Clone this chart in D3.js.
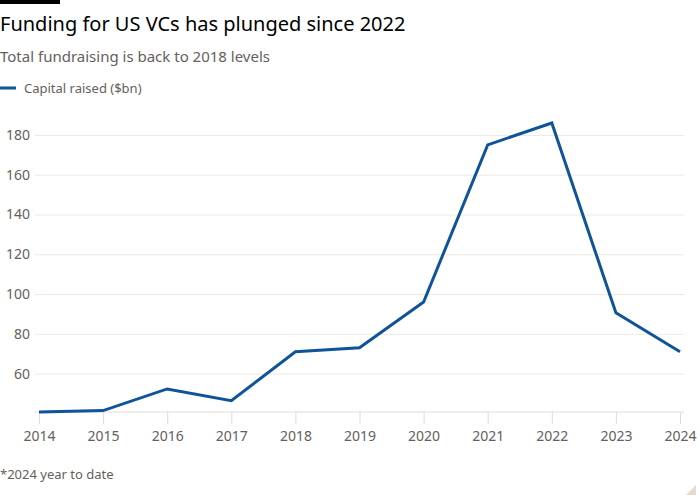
<!DOCTYPE html>
<html>
<head>
<meta charset="utf-8">
<script src="https://cdn.jsdelivr.net/npm/d3@7"></script>
<style>
  body { margin: 0; background: #fff; font-family: "Noto Sans", sans-serif; }
  svg { display: block; }
</style>
</head>
<body>
<svg width="700" height="500"></svg>
<script>
// Chart data
const years = [2014, 2015, 2016, 2017, 2018, 2019, 2020, 2021, 2022, 2023, 2024];
const capitalRaised = [40.7, 41.4, 52.3, 46.4, 71, 73, 96, 175, 186, 90.6, 71];
const yTicks = [60, 80, 100, 120, 140, 160, 180];

const svg = d3.select("svg");
const margin = { top: 123, right: 20, bottom: 88, left: 39 };
const width = 700 - margin.left - margin.right;
const height = 500 - margin.top - margin.bottom;

// Header
svg.append("rect").attr("x", 0).attr("y", 0).attr("width", 60).attr("height", 4).attr("fill", "#000");
svg.append("text").attr("x", 0).attr("y", 31)
  .style("font-size", "20px").attr("fill", "#000")
  .text("Funding for US VCs has plunged since 2022");
svg.append("text").attr("x", 0).attr("y", 62)
  .style("font-size", "15px").attr("fill", "#66605c")
  .text("Total fundraising is back to 2018 levels");

// Legend
svg.append("line").attr("x1", 0).attr("x2", 16).attr("y1", 88).attr("y2", 88)
  .attr("stroke", "#0f5499").attr("stroke-width", 3);
svg.append("text").attr("x", 24).attr("y", 92.5)
  .style("font-size", "13px").attr("fill", "#66605c")
  .text("Capital raised ($bn)");

const g = svg.append("g").attr("transform", `translate(${margin.left},${margin.top})`);

const x = d3.scaleLinear().domain(d3.extent(years)).range([0, width]);
const y = d3.scaleLinear().domain(d3.extent(capitalRaised)).range([height, 0]);

// Gridlines + y labels
const yAxis = g.append("g")
  .call(d3.axisLeft(y).tickValues(yTicks).tickSize(-(width + 8)).tickPadding(5))
  .attr("transform", "translate(-4,0)");
yAxis.select(".domain").remove();
yAxis.selectAll(".tick line").attr("stroke", "#efe9e4");
yAxis.selectAll(".tick text")
  .attr("fill", "#66605c").style("font-size", "14px").style("font-family", "Noto Sans, sans-serif");

// X axis
const xAxis = g.append("g").attr("transform", `translate(0,${height})`)
  .call(d3.axisBottom(x).tickValues(years).tickFormat(d3.format("d")).tickSize(12).tickPadding(7));
xAxis.select(".domain").attr("d", `M-4,0H${width + 4}`).attr("stroke", "#e0dbd6");
xAxis.selectAll(".tick line").attr("stroke", "#e0dbd6");
xAxis.selectAll(".tick text")
  .attr("fill", "#66605c").style("font-size", "14px").style("font-family", "Noto Sans, sans-serif");

// Line
const line = d3.line().x((d, i) => x(years[i])).y(d => y(d));
g.append("path").datum(capitalRaised)
  .attr("fill", "none").attr("stroke", "#0f5499").attr("stroke-width", 3)
  .attr("stroke-linejoin", "miter")
  .attr("d", line);

// Footnote
svg.append("text").attr("x", 0).attr("y", 479)
  .style("font-size", "13px").attr("fill", "#66605c")
  .text("*2024 year to date");

// Corner mark
svg.append("path").attr("d", "M686,495L696,485L696,495Z").attr("fill", "#e6d9ce");
</script>
</body>
</html>
